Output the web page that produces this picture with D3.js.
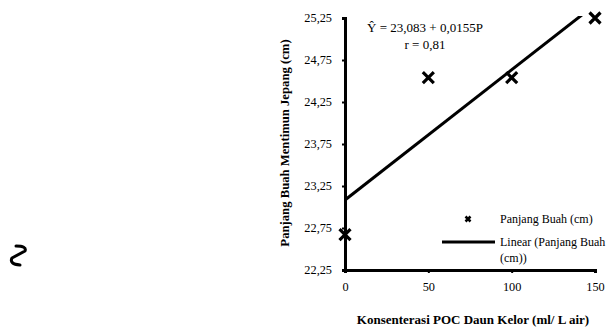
<!DOCTYPE html>
<html><head><meta charset="utf-8">
<script src="https://cdn.jsdelivr.net/npm/d3@7"></script>
<style>body{margin:0;background:#fff}svg{display:block}text{font-family:"Liberation Serif","Times New Roman",serif;fill:#000}</style>
</head><body>
<svg id="c" width="606" height="329"></svg>
<script>
const doses = [0, 50, 100, 150];
const lengths = [22.67, 24.54, 24.54, 25.25];
const xTicks = [0, 50, 100, 150];
const yTicks = [22.25, 22.75, 23.25, 23.75, 24.25, 24.75, 25.25];
const intercept = 23.083, slope = 0.0155;

const svg = d3.select("#c");
const x = d3.scaleLinear().domain([0,150]).range([345,595]);
const y = d3.scaleLinear().domain([22.25,25.25]).range([270,18]);
const fmt = d => d3.format(".2f")(d).replace(".", ",");

// y axis
const ya = svg.append("g").attr("transform","translate(345,0)")
  .call(d3.axisLeft(y).tickValues(yTicks).tickSize(3).tickPadding(10).tickFormat(fmt));
ya.select(".domain").attr("stroke","#000").attr("stroke-width",3);
ya.selectAll(".tick line").attr("stroke-width",2);
ya.selectAll("text").attr("font-size",12.3).attr("font-family","Liberation Serif");
// x axis
const xa = svg.append("g").attr("transform","translate(0,270)")
  .call(d3.axisBottom(x).tickValues(xTicks).tickSize(3).tickPadding(9));
xa.select(".domain").attr("stroke","#000").attr("stroke-width",3);
xa.selectAll(".tick line").attr("stroke-width",2);
xa.selectAll("text").attr("font-size",12.3).attr("font-family","Liberation Serif");

// regression line clipped
svg.append("clipPath").attr("id","pc").append("rect").attr("x",343).attr("y",16).attr("width",260).attr("height",256);
svg.append("line").attr("clip-path","url(#pc)")
  .attr("x1",x(0)).attr("y1",y(intercept))
  .attr("x2",x(150)).attr("y2",y(intercept+slope*150))
  .attr("stroke","#000").attr("stroke-width",3);

// markers
const cross = (g,cx,cy,s,w)=>g.append("path")
  .attr("d",`M${cx-s},${cy-s}L${cx+s},${cy+s}M${cx-s},${cy+s}L${cx+s},${cy-s}`)
  .attr("stroke","#000").attr("stroke-width",w);
doses.forEach((d,i)=>cross(svg,x(d),y(lengths[i]),5.5,3.2));

// equation
svg.append("text").attr("x",425).attr("y",32).attr("text-anchor","middle").attr("font-size",13).text("Ŷ = 23,083 + 0,0155P");
svg.append("text").attr("x",425).attr("y",49).attr("text-anchor","middle").attr("font-size",13).text("r = 0,81");

// axis titles
svg.append("text").attr("transform","translate(289,143) rotate(-90)").attr("text-anchor","middle")
  .attr("font-size",12.7).attr("font-weight","bold").text("Panjang Buah Mentimun Jepang (cm)");
svg.append("text").attr("x",473).attr("y",324).attr("text-anchor","middle")
  .attr("font-size",13).attr("font-weight","bold").text("Konsenterasi POC Daun Kelor (ml/ L air)");

// legend
cross(svg,468,219,2.5,2.5);
svg.append("text").attr("x",500).attr("y",223).attr("font-size",12).text("Panjang Buah (cm)");
svg.append("line").attr("x1",442).attr("x2",495).attr("y1",242).attr("y2",242).attr("stroke","#000").attr("stroke-width",3);
svg.append("text").attr("x",500).attr("y",246).attr("font-size",12).text("Linear (Panjang Buah");
svg.append("text").attr("x",500).attr("y",262).attr("font-size",12).text("(cm))");

// stray squiggle mark
svg.append("path").attr("d","M16,246 Q27,246 25,251 L12,258 Q9,264 20,265")
  .attr("fill","none").attr("stroke","#000").attr("stroke-width",3).attr("stroke-linecap","round").attr("stroke-linejoin","round");
</script>
</body></html>
